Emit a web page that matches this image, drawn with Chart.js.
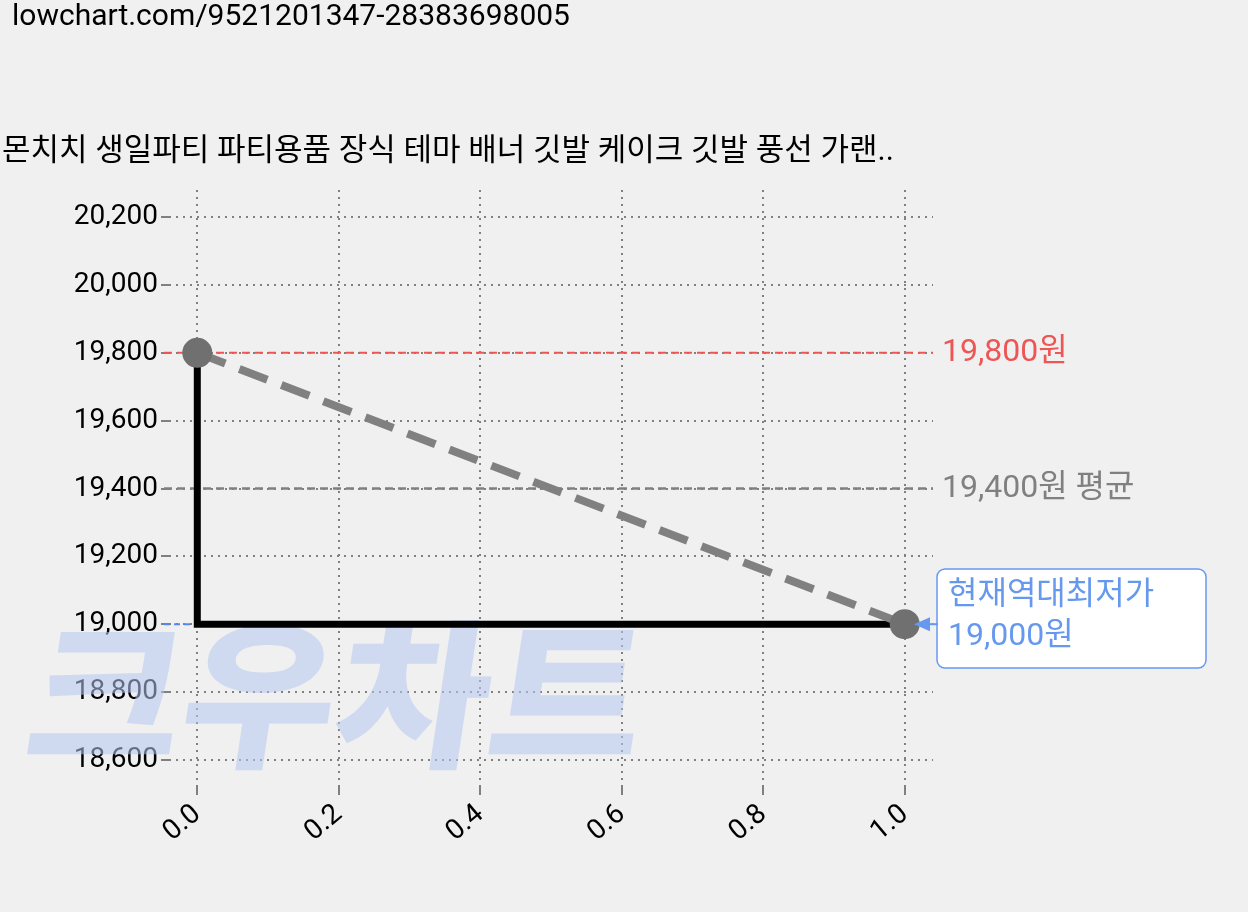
<!DOCTYPE html>
<html><head><meta charset="utf-8">
<script src="https://cdn.jsdelivr.net/npm/chart.js@4"></script>
<style>html,body{margin:0;background:#f0f0f0;}#w{width:1248px;height:912px;}</style>
</head><body><div id="w"><canvas id="c"></canvas></div>
<script>
const xs=[0,1];
const prices=[19800,19000];
const maxPrice=19800, avgPrice=19400, minPrice=19000;
const yTicks=[18600,18800,19000,19200,19400,19600,19800,20000,20200];
const xTicks=[0,0.2,0.4,0.6,0.8,1.0];
const url='lowchart.com/9521201347-28383698005';
const title='몬치치 생일파티 파티용품 장식 테마 배너 깃발 케이크 깃발 풍선 가랜..';
const F='Roboto, "Noto Sans CJK KR", sans-serif';
const stepPts=[{x:xs[0],y:prices[0]},{x:xs[0],y:prices[1]},{x:xs[1],y:prices[1]}];
const deco={id:'deco',
beforeDatasetsDraw(ch){const c=ch.ctx,y=ch.scales.y,a=ch.chartArea;c.save();
 c.font='900 160px "Noto Sans CJK KR"';c.fillStyle='rgba(180,200,240,0.55)';c.textBaseline='alphabetic';
 const w=c.measureText('크우차트').width;c.translate(0,755);c.transform(615/w,0,-0.15,1,0,0);
 c.fillText('크우차트',20,0);c.setTransform(1,0,0,1,0,0);
 const hl=(v,col,d,w)=>{c.strokeStyle=col;c.lineWidth=w;c.setLineDash(d);c.beginPath();c.moveTo(a.left-5,y.getPixelForValue(v));c.lineTo(a.right,y.getPixelForValue(v));c.stroke();};
 hl(maxPrice,'#ee5555',[8,5],2);hl(avgPrice,'#808080',[8,5],2.5);hl(minPrice,'#5588ee',[6,4],2);
 c.restore();},
afterDraw(ch){const c=ch.ctx,y=ch.scales.y,a=ch.chartArea;c.save();c.setLineDash([]);
 c.fillStyle='#000';c.font='30px '+F;c.textBaseline='middle';c.fillText(url,12,17);
 c.font='31px '+F;c.fillText(title,2,152);
 c.font='32px '+F;c.fillStyle='#ee5555';c.fillText(maxPrice.toLocaleString('en-US')+'원',942,y.getPixelForValue(maxPrice));
 c.fillStyle='#808080';c.fillText(avgPrice.toLocaleString('en-US')+'원 평균',942,y.getPixelForValue(avgPrice));
 const ym=y.getPixelForValue(minPrice);
 c.fillStyle='#fff';c.strokeStyle='#6699ee';c.lineWidth=1.5;c.beginPath();c.roundRect(937,569,269,99,8);c.fill();c.stroke();
 c.fillStyle='#6699ee';c.beginPath();c.moveTo(914,ym);c.lineTo(930,ym-7);c.lineTo(930,ym+7);c.fill();
 c.fillRect(928,ym-1,10,2);
 c.fillText('현재역대최저가',948,596);c.fillText(minPrice.toLocaleString('en-US')+'원',948,637);
 c.restore();}};
new Chart(document.getElementById('c'),{type:'scatter',
data:{datasets:[
 {data:[{x:xs[0],y:prices[0]},{x:xs[1],y:prices[1]}],showLine:true,borderColor:'#808080',borderWidth:8,borderDash:[30,15],pointRadius:11,pointBackgroundColor:'#707070',pointBorderColor:'#707070',order:1},
 {data:stepPts,showLine:true,borderColor:'#000',borderWidth:7,pointRadius:0,order:2}
]},
plugins:[deco],
options:{responsive:true,maintainAspectRatio:false,animation:false,devicePixelRatio:1,
 layout:{padding:{top:190,right:315,left:0,bottom:0}},
 plugins:{legend:{display:false},tooltip:{enabled:false}},
 scales:{
  x:{type:'linear',min:-0.04,max:1.04,afterBuildTicks(s){s.ticks=xTicks.map(v=>({value:v}));},
   afterFit(s){s.height=125;},
   grid:{color:'#808080',lineWidth:2,drawTicks:true,tickLength:8},border:{display:false,dash:[2,5]},
   ticks:{font:{size:28,family:F},color:'#000',maxRotation:40,minRotation:40,callback:v=>v.toFixed(1)}},
  y:{min:18520,max:20280,afterBuildTicks(s){s.ticks=yTicks.map(v=>({value:v}));},
   afterFit(s){s.width=169;},
   grid:{color:'#808080',lineWidth:2,tickLength:8},border:{display:false,dash:[2,5]},
   ticks:{font:{size:28,family:F},color:'#000',callback:v=>v.toLocaleString('en-US')}}
 }}});
</script></body></html>
